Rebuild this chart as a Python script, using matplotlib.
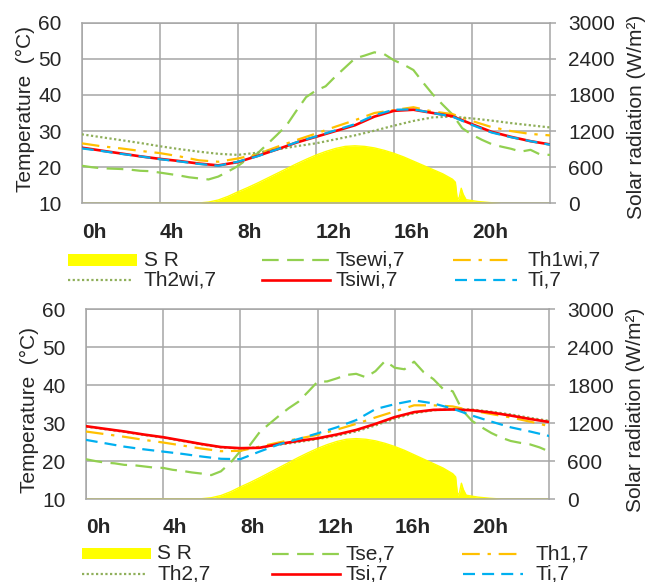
import matplotlib.pyplot as plt
from matplotlib.patches import Rectangle
from matplotlib.lines import Line2D

plt.rcParams['font.family'] = ['Liberation Sans', 'DejaVu Sans']
plt.rcParams['font.size'] = 15

# time axes (hours of the day)
hours = list(range(25))
half_hours = [h / 2 for h in range(49)]

tick_hours = [0, 4, 8, 12, 16, 20]
tick_labels = ['0h', '4h', '8h', '12h', '16h', '20h']
temp_ticks = [10, 20, 30, 40, 50, 60]
sr_ticks = [0, 600, 1200, 1800, 2400, 3000]

# solar radiation (W/m2), same day for both panels
sr_hours = [0, 6, 6.5, 7, 7.5, 8, 8.5, 9, 9.5, 10, 10.5, 11, 11.5, 12, 12.5,
            13, 13.5, 14, 14.5, 15, 15.5, 16, 16.5, 17, 17.5, 18, 18.5, 19,
            19.15, 19.25, 19.35, 19.45, 19.55, 19.7, 19.9, 20.3, 20.9, 21.5, 24]
sr_values = [0, 5, 20, 55, 115, 190, 260, 335, 415, 495, 575, 655, 730, 800, 860,
             910, 945, 955, 945, 920, 880, 830, 770, 700, 630, 560, 490, 400,
             350, 60, 100, 250, 150, 60, 50, 30, 12, 0, 0]

# top panel: with insulation (half-hourly surface, hourly others)
tsewi = [20.4, 20.0, 19.7, 19.6, 19.5, 19.3, 19.0, 18.9, 18.5, 18.1, 17.7, 17.2,
         16.9, 16.6, 17.4, 18.8, 20.3, 22.3, 23.8, 26.3, 28.9, 31.6, 35.6, 39.4,
         41.2, 42.4, 45.1, 47.6, 50.1, 50.9, 51.8, 51.3, 49.6, 48.4, 46.9, 43.4,
         40.1, 37.3, 34.6, 30.8, 29.0, 27.6, 26.4, 25.7, 25.1, 24.3, 24.8, 23.5,
         23.4]
th1wi = [26.6, 25.8, 25.2, 24.5, 23.9, 23.0, 21.9, 21.5, 22.4, 23.6, 25.6, 27.5,
         29.3, 31.2, 33.0, 35.0, 35.8, 36.6, 35.4, 34.7, 32.8, 31.1, 30.0, 29.2,
         28.8]
th2wi = [29.1, 28.3, 27.5, 26.7, 25.8, 25.0, 24.3, 23.7, 23.4, 24.0, 24.9, 25.8,
         26.6, 27.7, 28.8, 30.1, 31.5, 32.8, 33.8, 34.0, 33.5, 32.9, 32.2, 31.6,
         31.0]
tsiwi = [25.4, 24.6, 23.8, 23.0, 22.3, 21.7, 21.0, 20.5, 21.4, 23.1, 24.9, 26.8,
         28.4, 30.0, 31.6, 34.0, 35.6, 35.9, 35.0, 34.1, 31.9, 29.8, 28.4, 27.2,
         26.3]
ti_wi = [25.2, 24.5, 23.7, 23.0, 22.2, 21.6, 20.9, 20.4, 21.5, 23.0, 24.9, 26.9,
         28.5, 30.2, 31.9, 34.4, 35.9, 36.0, 35.0, 34.0, 31.7, 29.6, 28.3, 27.2,
         26.2]

# bottom panel: without insulation
tse = [20.5, 20.0, 19.6, 19.4, 19.0, 18.9, 18.6, 18.3, 18.2, 17.7, 17.4, 17.0,
       16.7, 16.3, 17.3, 19.6, 22.6, 24.2, 27.6, 29.8, 31.9, 33.9, 35.6, 38.2,
       40.9, 41.0, 41.8, 42.7, 43.0, 42.1, 43.7, 46.4, 44.6, 44.2, 46.2, 43.4,
       41.6, 39.0, 38.4, 33.4, 30.6, 28.9, 27.4, 26.2, 25.3, 24.8, 24.4, 23.6,
       22.5]
th1 = [27.8, 27.1, 26.4, 25.6, 24.9, 24.1, 23.3, 22.6, 22.7, 23.8, 24.9, 25.9,
       26.9, 28.3, 29.8, 31.5, 33.1, 34.7, 34.7, 34.4, 33.3, 32.4, 31.5, 30.4,
       29.2]
th2 = [29.1, 28.4, 27.7, 26.9, 26.2, 25.3, 24.4, 23.6, 23.3, 23.6, 24.3, 25.0,
       25.8, 26.7, 27.8, 29.4, 31.2, 32.6, 33.4, 33.7, 33.6, 33.0, 32.3, 31.4,
       30.6]
tsi = [29.2, 28.5, 27.8, 27.0, 26.3, 25.4, 24.5, 23.7, 23.4, 23.5, 24.5, 25.3,
       26.0, 27.0, 28.2, 29.8, 31.6, 32.9, 33.5, 33.6, 33.4, 32.8, 32.0, 31.1,
       30.3]
ti = [25.6, 24.7, 23.8, 23.1, 22.5, 21.9, 21.2, 20.6, 20.5, 22.5, 24.4, 25.8,
      27.3, 28.9, 30.8, 33.7, 35.0, 36.0, 35.2, 33.8, 32.0, 30.4, 28.9, 27.8,
      26.6]

W, H = 646, 582
YELLOW = '#FFFF00'
GRID = '#A6A6A6'
TEXT = '#262626'

styles = {
    'se': dict(color='#92D050', lw=1.6, ls=(0, (7.5, 3.8))),
    'h1': dict(color='#FFC000', lw=1.6, ls=(0, (8, 3.5, 1.5, 3.5))),
    'h2': dict(color='#8FAF5A', lw=1.6, ls=(0, (1, 1.1))),
    'si': dict(color='#FF0000', lw=1.9, ls='-'),
    'i': dict(color='#00B0F0', lw=1.6, ls=(0, (5.4, 3.2))),
}


def legend_entry(x0, x1, xt, y, label, style=None):
    # legend drawn in figure pixels, Excel-like fixed column layout
    tr = fig.transFigure
    if style is None:
        fig.add_artist(Rectangle((x0 / W, 1 - (y + 5.8) / H), (x1 - x0) / W,
                                 11.6 / H, color=YELLOW, lw=0, transform=tr))
    else:
        fig.add_artist(Line2D([x0 / W, x1 / W], [1 - y / H, 1 - y / H],
                              transform=tr, **style))
    fig.text(xt / W, 1 - y / H, label, va='center', ha='left', color=TEXT)


def draw_panel(rect, series, names, handles_x, text_x, rows, ylab_y, rlab_y):
    ax_sr = fig.add_axes(rect)
    ax_t = fig.add_axes(rect)

    # solar radiation in the back, with the grid
    ax_sr.fill_between(sr_hours, sr_values, color=YELLOW, lw=0)
    ax_sr.plot(sr_hours, sr_values, color=YELLOW, lw=1)
    ax_sr.set_xlim(0, 24)
    ax_sr.set_ylim(0, 3000)
    ax_sr.set_xticks(tick_hours)
    ax_sr.set_yticks(sr_ticks)
    ax_sr.grid(True, color=GRID, lw=1.1)
    ax_sr.set_axisbelow(True)
    ax_sr.yaxis.tick_right()
    ax_sr.tick_params(axis='x', length=0, labelbottom=False)
    ax_sr.tick_params(axis='y', length=4, color=GRID, width=1.1, pad=9,
                      labelcolor=TEXT)
    for sp in ax_sr.spines.values():
        sp.set_color(GRID)
        sp.set_linewidth(1.1)

    # temperatures on top
    ax_t.patch.set_visible(False)
    for sp in ax_t.spines.values():
        sp.set_visible(False)
    ax_t.plot(half_hours, series[0], **styles['se'])
    ax_t.plot(hours, series[1], **styles['h1'])
    ax_t.plot(hours, series[2], **styles['h2'])
    ax_t.plot(hours, series[3], **styles['si'])
    ax_t.plot(hours, series[4], **styles['i'])
    ax_t.set_xlim(0, 24)
    ax_t.set_ylim(10, 60)
    ax_t.set_yticks(temp_ticks)
    ax_t.set_xticks(tick_hours, tick_labels, fontweight='bold')
    for lbl in ax_t.get_xticklabels():
        lbl.set_horizontalalignment('left')
    ax_t.tick_params(axis='x', length=0, pad=14, labelcolor=TEXT)
    ax_t.tick_params(axis='y', length=0, pad=14.5, labelcolor=TEXT)

    ax_t.set_ylabel('Temperature  (°C)', color=TEXT, va='center')
    ax_t.yaxis.set_label_coords(-0.121, ylab_y)
    ax_sr.set_ylabel('Solar radiation (W/m²)', color=TEXT, va='center',
                     rotation=90)
    ax_sr.yaxis.set_label_coords(1.185, rlab_y)

    keys = [None, 'se', 'h1', 'h2', 'si', 'i']
    for k, (key, name) in enumerate(zip(keys, names)):
        x0, x1 = handles_x[k]
        legend_entry(x0, x1, text_x[k % 3], rows[k // 3], name,
                     None if key is None else styles[key])


fig = plt.figure(figsize=(W / 100, H / 100), dpi=100)

draw_panel([0.1265, 0.6507, 0.7249, 0.3103],
           [tsewi, th1wi, th2wi, tsiwi, ti_wi],
           ['S R', 'Tsewi,7', 'Th1wi,7', 'Th2wi,7', 'Tsiwi,7', 'Ti,7'],
           [(68, 137), (262, 330), (453, 513), (68, 132), (262, 330), (455, 517)],
           (144, 336, 527), (260, 280), 0.52, 0.48)

draw_panel([0.1327, 0.1426, 0.7176, 0.3259],
           [tse, th1, th2, tsi, ti],
           ['S R', 'Tse,7', 'Th1,7', 'Th2,7', 'Tsi,7', 'Ti,7'],
           [(81.7, 150.7), (272, 340), (461.5, 521), (81.7, 145), (272, 340),
            (463, 523)],
           (157.3, 346, 535.6), (553.5, 574), 0.47, 0.47)

fig.savefig('out.png', dpi=100)
